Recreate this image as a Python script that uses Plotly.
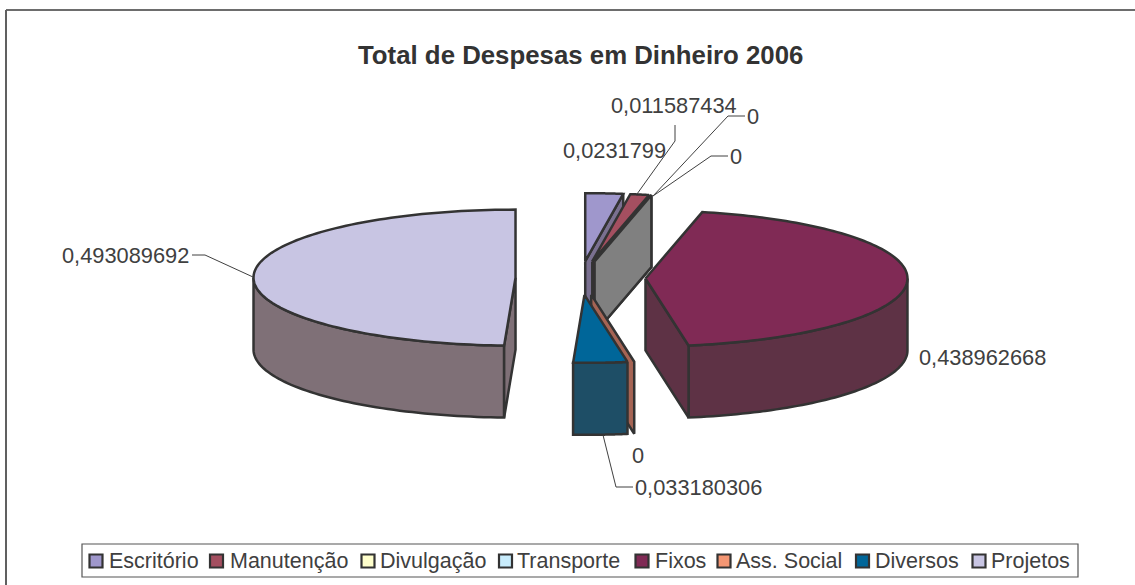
import numpy as np
import plotly.graph_objects as go

categories = ["Escritório", "Manutenção", "Divulgação", "Transporte", "Fixos", "Ass. Social", "Diversos", "Projetos"]
values = [0.0231799, 0.011587434, 0, 0, 0.438962668, 0, 0.033180306, 0.493089692]
top_colors = ["#9F97CC", "#A44F60", "#FFFFCC", "#C8ECFC", "#802A55", "#F49673", "#006699", "#C8C5E3"]
cut_colors = ["#7A7090", "#73303F", "#808080", "#808080", "#5E3245", "#A56454", "#1E4E66", "#7F7077"]
wall_colors = ["#7A7090", "#73303F", "#808080", "#808080", "#5E3245", "#A56454", "#1E4E66", "#7F7077"]
data_labels = ["0,0231799", "0,011587434", "0", "0", "0,438962668", "0", "0,033180306", "0,493089692"]
title_text = "Total de Despesas em Dinheiro 2006"

# projection of the exploded 3D pie onto the page
CX, CY, RX, RY, DEPTH, EXPLODE = 580.5, 278, 262, 68, 72, 65
EDGE = "#333333"
TXT = "#404040"
FS = 21.8

fracs = np.array(values, dtype=float)
ends = np.cumsum(fracs) / fracs.sum() * 2 * np.pi
starts = np.concatenate([[0], ends[:-1]])


def pt(a, ox, oy, r=1.0, dz=0.0):
    return ox + RX * r * np.sin(a), oy - RY * r * np.cos(a) + dz


def poly(xs, ys, color, name):
    return go.Scatter(x=list(xs) + [xs[0]], y=list(ys) + [ys[0]], mode="lines", fill="toself",
                      fillcolor=color, line=dict(color=EDGE, width=2.5, simplify=False),
                      name=name, showlegend=False, hoverinfo="name")


fig = go.Figure()
order = [7, 0, 1, 2, 3, 4, 5, 6]
for i in order:
    a0, a1 = starts[i], ends[i]
    mid = (a0 + a1) / 2
    ox = CX + EXPLODE * np.sin(mid)
    oy = CY - EXPLODE * RY / RX * np.cos(mid)
    name = categories[i]
    # outer wall: only the part of the rim facing the viewer
    w0, w1 = max(a0, np.pi / 2), min(a1, 3 * np.pi / 2)
    if w1 > w0:
        t = np.linspace(w0, w1, 60)
        xa, ya = pt(t, ox, oy)
        xb, yb = pt(t[::-1], ox, oy, dz=DEPTH)
        fig.add_trace(poly(np.r_[xa, xb], np.r_[ya, yb], wall_colors[i], name))
    # the cut face at the clockwise end of a right-hand slice
    if a1 < np.pi:
        xe, ye = pt(a1, ox, oy)
        fig.add_trace(poly([ox, xe, xe, ox], [oy, ye, ye + DEPTH, oy + DEPTH], cut_colors[i], name))
    # the cut face at the start of a left-hand slice
    if a0 > np.pi:
        xe, ye = pt(a0, ox, oy)
        fig.add_trace(poly([ox, xe, xe, ox], [oy, ye, ye + DEPTH, oy + DEPTH], cut_colors[i], name))
    # top face
    if a1 > a0:
        t = np.linspace(a0, a1, 120)
        xa, ya = pt(t, ox, oy)
        fig.add_trace(poly(np.r_[ox, xa], np.r_[oy, ya], top_colors[i], name))

shapes = [
    dict(type="line", x0=6, y0=10, x1=1135, y1=10, line=dict(color="#3c3c3c", width=1.6)),
    dict(type="line", x0=6, y0=10, x1=6, y1=585, line=dict(color="#606060", width=2)),
    dict(type="rect", x0=82, y0=544, x1=1078, y1=577, line=dict(color="#555555", width=1.2)),
]
leaders = [
    ([192, 205, 253], [255, 255, 277]),
    ([675, 675, 637], [125, 141, 194]),
    ([745, 728, 653], [116, 116, 196]),
    ([728, 711, 653], [156, 156, 196]),
    ([633, 616, 603], [487, 487, 435]),
]
for lx, ly in leaders:
    fig.add_trace(go.Scatter(x=lx, y=ly, mode="lines", line=dict(color="#404040", width=1),
                             hoverinfo="skip", showlegend=False))

label_pos = [(563, 150), (611, 105), (730, 156), (747, 116), (919, 357), (632, 455), (635, 487), (62, 255)]
ann = [dict(x=x, y=y, text=s, xanchor="left", yanchor="middle", showarrow=False, xshift=-2,
            font=dict(size=FS, color=TXT, family="Liberation Sans"))
       for (x, y), s in zip(label_pos, data_labels)]
ann.append(dict(x=580, y=55, text="<b>" + title_text + "</b>", xanchor="center", yanchor="middle", showarrow=False,
                font=dict(size=25.8, color="#333333", family="Liberation Sans")))

swatch_x = [96, 216.5, 368, 505.5, 642, 724, 862.5, 979]
text_x = [109, 230, 380, 517, 655, 736, 875, 991]
fig.add_trace(go.Scatter(x=swatch_x, y=[561] * 8, mode="markers", hoverinfo="skip", showlegend=False,
                         marker=dict(symbol="square", size=13, color=top_colors,
                                     line=dict(color=EDGE, width=2.2))))
for x, s in zip(text_x, categories):
    ann.append(dict(x=x, y=560.5, text=s, xanchor="left", yanchor="middle", showarrow=False, xshift=-2,
                    font=dict(size=21.5, color=TXT, family="Liberation Sans")))

fig.update_layout(
    width=1135, height=585, margin=dict(l=0, r=0, t=0, b=0),
    paper_bgcolor="white", plot_bgcolor="white", showlegend=False,
    xaxis=dict(range=[0, 1135], visible=False, fixedrange=True),
    yaxis=dict(range=[585, 0], visible=False, fixedrange=True),
    shapes=shapes, annotations=ann,
)
fig.write_html("out.html", config=dict(displayModeBar=False),
               post_script="document.body.style.margin='0';document.body.style.overflow='hidden';")
